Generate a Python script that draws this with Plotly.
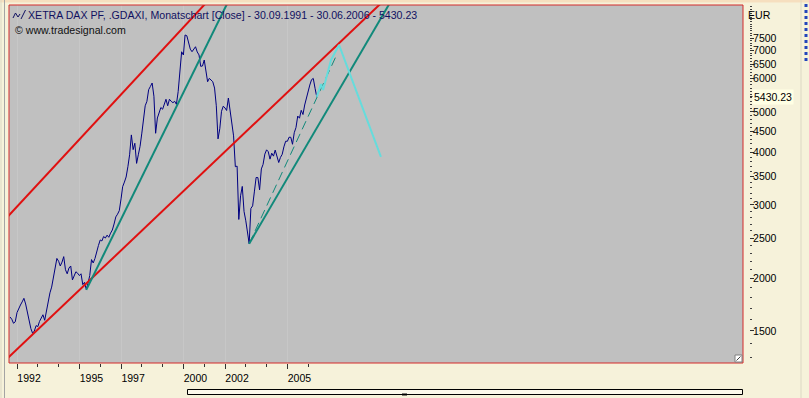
import calendar
import math
import plotly.graph_objects as go

# ---------------- data ----------------
first_year, first_month = 1991, 9          # first monthly bar: 30.09.1991
dax_close = [
    1620, 1600, 1565, 1578,                                                  # 1991 Sep-Dec
    1660, 1700, 1730, 1760, 1795, 1740, 1650, 1570, 1520, 1481, 1500, 1545,  # 1992
    1537, 1580, 1610, 1640, 1591, 1680, 1763, 1850, 1909, 2000, 2100, 2235,  # 1993
    2200, 2144, 2190, 2257, 2100, 2054, 2120, 2144, 1986, 2030, 2077, 2060,  # 1994
    2034, 2054, 1935, 1960, 1885, 1950, 2034, 2221, 2180, 2235, 2300, 2400,  # 1995
    2474, 2460, 2521, 2500, 2540, 2510, 2568, 2613, 2700, 2808, 2850, 2906,  # 1996
    3100, 3315, 3400, 3496, 3699, 3950, 4406, 4063, 4208, 3768, 3950, 4139,  # 1997
    4450, 4800, 5171, 5300, 5650, 5750, 5860, 5450, 4446, 4836, 5000, 5122,  # 1998
    5074, 5200, 5359, 5171, 5359, 5300, 5260, 5300, 5212, 5590, 6343, 6958,  # 1999
    6835, 7630, 7599, 7300, 7060, 6961, 7050, 7153, 6950, 6838, 6423, 6434,  # 2000
    6650, 6208, 5902, 6013, 5950, 5902, 5700, 5171, 4311, 4559, 5016, 5160,  # 2001
    5108, 5039, 5397, 5041, 4818, 4383, 3700, 3712, 2769, 3153, 3320, 2893,  # 2002
    2748, 2547, 2424, 2942, 2983, 3221, 3487, 3485, 3257, 3655, 3746, 3965,  # 2003
    4059, 4018, 3857, 3985, 3921, 4053, 3895, 3786, 3893, 3960, 4126, 4256,  # 2004
    4255, 4350, 4349, 4185, 4460, 4587, 4887, 4830, 5044, 4929, 5193, 5408,  # 2005
    5674, 5796, 5970, 6009, 5693, 5430.23,                                   # 2006 Jan-Jun
]

# drawn trend lines (date, value) end points
upper_red_x = ["1991-08-08", "2002-01-01"]
upper_red_y = [2800, 10080]
lower_red_x = ["1991-08-08", "2010-01-01"]
lower_red_y = [1287, 9506]
teal1_x = ["1995-05-31", "2002-07-01"]
teal1_y = [1880, 9743]
teal2_x = ["2003-03-31", "2010-01-01"]
teal2_y = [2424, 9085]
dash_x = ["2003-03-31", "2007-06-15"]
dash_y = [2424, 6840]
proj_x = ["2006-06-30", "2006-09-13", "2006-10-19", "2007-03-08", "2007-07-26", "2009-07-31"]
proj_y = [5430.23, 5829, 5641, 6652, 7223, 3904]

label_years = [1992, 1995, 1997, 2000, 2002, 2005]
minor_years = list(range(1992, 2007))
y_major = [1500, 2000, 2500, 3000, 3500, 4000, 4500, 5000, 6000, 6500, 7000, 7500]
last_value = dax_close[-1]


def month_end(y, m):
    return f"{y:04d}-{m:02d}-{calendar.monthrange(y, m)[1]:02d}"


month_dates = []
yy, mm = first_year, first_month
for _ in dax_close:
    month_dates.append(month_end(yy, mm))
    mm += 1
    if mm > 12:
        mm, yy = 1, yy + 1

# ---------------- layout helpers ----------------
W, H = 809, 398
ML, MR, MT, MB = 9, 60, 5, 35
PW, PH = W - ML - MR, H - MT - MB
PLOT_RIGHT = 743


def px(x):
    return (x - ML) / PW


def py(y):
    return (H - MB - y) / PH


FONT = "Liberation Sans, Arial, sans-serif"
RED = "#e01010"
TEAL = "#11897a"
CYAN = "#66dcdc"
NAVY = "#000080"

fig = go.Figure()
fig.add_trace(go.Scatter(x=month_dates, y=dax_close, mode="lines",
                         line=dict(color=NAVY, width=1), hoverinfo="skip"))
for xs, ys, col, w, dash in [
    (upper_red_x, upper_red_y, RED, 2, "solid"),
    (lower_red_x, lower_red_y, RED, 2, "solid"),
    (teal1_x, teal1_y, TEAL, 2, "solid"),
    (teal2_x, teal2_y, TEAL, 2, "solid"),
    (dash_x, dash_y, TEAL, 1, "9px,5px"),
    (proj_x, proj_y, CYAN, 2, "solid"),
]:
    fig.add_trace(go.Scatter(x=xs, y=ys, mode="lines",
                             line=dict(color=col, width=w, dash=dash), hoverinfo="skip"))

shapes = [
    # top peach strip
    dict(type="rect", xref="paper", yref="paper", x0=px(0), x1=px(W), y0=py(0), y1=py(2.5),
         fillcolor="#f6dfbf", line=dict(width=0), layer="below"),
    # left window edges
    dict(type="line", xref="paper", yref="paper", x0=px(4.5), x1=px(4.5), y0=py(0), y1=py(H),
         line=dict(color="#a4a4a4", width=1)),
    dict(type="line", xref="paper", yref="paper", x0=px(1), x1=px(1), y0=py(0), y1=py(H),
         line=dict(color="#dcd8c4", width=1)),
    # right edge
    dict(type="line", xref="paper", yref="paper", x0=px(801), x1=px(801), y0=py(0), y1=py(H),
         line=dict(color="#dcd8c4", width=1)),
    dict(type="line", xref="paper", yref="paper", x0=px(806), x1=px(806), y0=py(4), y1=py(64),
         line=dict(color="#2244bb", width=3, dash="dot")),
    # plot border
    dict(type="rect", xref="x domain", yref="y domain", x0=0, x1=1, y0=0, y1=1,
         line=dict(color="#d42a2a", width=1), layer="above"),
    # corner grip
    dict(type="rect", xref="paper", yref="paper", x0=px(735), x1=px(742), y0=py(362), y1=py(355),
         fillcolor="#ffffff", line=dict(color="#808080", width=1)),
    dict(type="line", xref="paper", yref="paper", x0=px(736.5), x1=px(740.5), y0=py(360.5), y1=py(356.5),
         line=dict(color="#404040", width=1)),
    # scrollbar at the bottom
    dict(type="rect", xref="paper", yref="paper", x0=px(187.5), x1=px(742.5), y0=py(394.5), y1=py(389.5),
         fillcolor="#fbf8ea", line=dict(color="#000000", width=1)),
    dict(type="rect", xref="paper", yref="paper", x0=px(402), x1=px(407), y0=py(395.5), y1=py(393.5),
         fillcolor="#000000", line=dict(width=0)),
    # chart-type icon next to the title
    dict(type="path", xref="paper", yref="paper",
         path=(f"M {px(13)} {py(18)} L {px(15.5)} {py(13)} L {px(18)} {py(17)} L {px(20)} {py(14)} "
               f"M {px(21)} {py(19)} L {px(25.5)} {py(10)}"),
         line=dict(color="#101060", width=1)),
]

annotations = [
    dict(text="XETRA DAX PF, .GDAXI, Monatschart [Close] - 30.09.1991 - 30.06.2006 - 5430.23",
         xref="paper", yref="paper", x=px(26), y=py(15), xanchor="left", yanchor="middle",
         showarrow=False, font=dict(family=FONT, size=10.6, color="#101060")),
    dict(text="© www.tradesignal.com", xref="paper", yref="paper", x=px(13), y=py(30),
         xanchor="left", yanchor="middle", showarrow=False,
         font=dict(family=FONT, size=10.6, color="#101010")),
    dict(text="EUR", xref="paper", yref="paper", x=px(746), y=py(15), xanchor="left",
         yanchor="middle", showarrow=False, font=dict(family=FONT, size=10.6, color="#000000")),
    dict(text="5430.23", xref="paper", yref="y", x=px(752), y=math.log10(last_value),
         xanchor="left", yanchor="middle", showarrow=False, bgcolor="#ffffe4", borderpad=1,
         font=dict(family=FONT, size=10.5, color="#000000")),
]

x_left = "1991-09-12"
x_right = "2026-12-28"

fig.update_layout(
    width=W, height=H,
    margin=dict(l=ML, r=MR, t=MT, b=MB, pad=0),
    paper_bgcolor="#f6f2da",
    plot_bgcolor="#c0c0c0",
    showlegend=False,
    shapes=shapes,
    annotations=annotations,
    xaxis=dict(
        type="date", range=[x_left, x_right], domain=[0, (PLOT_RIGHT - ML) / PW],
        tickmode="array", tickvals=[month_end(y, 1) for y in label_years],
        ticktext=[str(y) for y in label_years],
        ticks="outside", ticklen=5, tickcolor="#303030", tickwidth=1,
        tickfont=dict(family=FONT, size=10.5, color="#000000"),
        ticklabelshift=12,
        showgrid=True, gridcolor="#c7c7c7", gridwidth=1,
        minor=dict(tickmode="array", tickvals=[month_end(y, 1) for y in minor_years],
                   ticks="outside", ticklen=3, tickcolor="#303030", showgrid=False),
        showline=False, zeroline=False, fixedrange=True,
    ),
    yaxis=dict(
        type="log", range=[3.0997, 3.9541], side="right", anchor="free", position=1,
        tickmode="array", tickvals=y_major + [last_value],
        ticktext=[str(v) for v in y_major] + [""],
        ticks="outside", ticklen=4, tickcolor="#303030", tickwidth=1,
        ticklabelstandoff=-3,
        tickfont=dict(family=FONT, size=10.5, color="#000000"),
        minor=dict(tickmode="array", tickvals=[v for v in range(1300, 9000, 100) if v not in y_major],
                   ticks="outside", ticklen=2, tickcolor="#404040", showgrid=False),
        showgrid=False, showline=False, zeroline=False, fixedrange=True,
    ),
)

fig.write_html(
    "out.html",
    config={"displayModeBar": False, "staticPlot": True},
    post_script="document.body.style.margin='0px'; document.body.style.background='#f6f2da';",
)
